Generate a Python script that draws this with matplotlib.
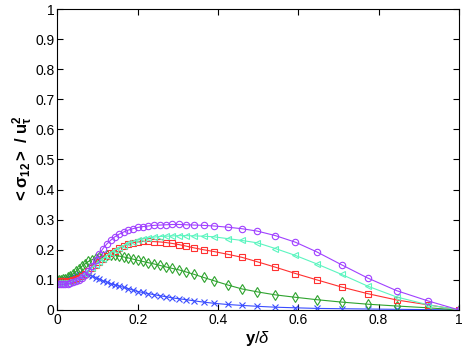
import matplotlib
matplotlib.use('Agg')
import matplotlib.pyplot as plt

# wall-normal grid (y/delta)
y_delta = [0, 0.004, 0.009, 0.014, 0.02, 0.026, 0.032, 0.039, 0.046, 0.053,
           0.061, 0.069, 0.077, 0.086, 0.095, 0.104, 0.113, 0.123, 0.133, 0.143,
           0.154, 0.165, 0.176, 0.188, 0.2, 0.213, 0.226, 0.24, 0.255, 0.27,
           0.286, 0.303, 0.321, 0.341, 0.364, 0.39, 0.424, 0.459, 0.498, 0.543,
           0.593, 0.646, 0.708, 0.773, 0.845, 0.923, 1.0]

blue = [0.1, 0.1, 0.1, 0.101, 0.103, 0.106, 0.109, 0.113, 0.117, 0.12,
        0.121, 0.12, 0.117, 0.112, 0.107, 0.102, 0.097, 0.092, 0.087, 0.083,
        0.079, 0.075, 0.071, 0.066, 0.061, 0.058, 0.054, 0.051, 0.047, 0.044,
        0.04, 0.037, 0.034, 0.03, 0.026, 0.022, 0.018, 0.015, 0.012, 0.009,
        0.007, 0.005, 0.004, 0.003, 0.002, 0.001, 0.0]

green = [0.1, 0.1, 0.101, 0.102, 0.104, 0.108, 0.113, 0.12, 0.128, 0.136,
         0.145, 0.153, 0.161, 0.167, 0.172, 0.176, 0.179, 0.181, 0.182, 0.181,
         0.179, 0.176, 0.173, 0.169, 0.165, 0.161, 0.157, 0.153, 0.148, 0.143,
         0.138, 0.133, 0.126, 0.118, 0.108, 0.097, 0.083, 0.07, 0.06, 0.05,
         0.042, 0.034, 0.026, 0.019, 0.013, 0.007, 0.0]

red = [0.095, 0.095, 0.095, 0.095, 0.095, 0.096, 0.097, 0.099, 0.102, 0.107,
       0.113, 0.121, 0.13, 0.14, 0.15, 0.16, 0.17, 0.18, 0.189, 0.197,
       0.205, 0.212, 0.218, 0.223, 0.226, 0.228, 0.228, 0.227, 0.226, 0.224,
       0.221, 0.217, 0.212, 0.206, 0.2, 0.194, 0.185, 0.175, 0.16, 0.142,
       0.121, 0.1, 0.076, 0.054, 0.033, 0.017, 0.0]

cyan = [0.09, 0.09, 0.09, 0.09, 0.091, 0.092, 0.094, 0.097, 0.101, 0.106,
        0.113, 0.121, 0.13, 0.14, 0.15, 0.16, 0.17, 0.18, 0.19, 0.199,
        0.207, 0.214, 0.221, 0.227, 0.232, 0.236, 0.239, 0.242, 0.244, 0.245,
        0.246, 0.247, 0.247, 0.246, 0.245, 0.243, 0.237, 0.231, 0.223, 0.204,
        0.181, 0.153, 0.118, 0.079, 0.043, 0.017, 0.0]

purple = [0.085, 0.085, 0.085, 0.085, 0.086, 0.087, 0.089, 0.092, 0.096, 0.1,
          0.107, 0.117, 0.13, 0.147, 0.165, 0.185, 0.203, 0.219, 0.232, 0.243,
          0.252, 0.259, 0.265, 0.27, 0.274, 0.277, 0.279, 0.281, 0.282, 0.283,
          0.284, 0.284, 0.283, 0.282, 0.281, 0.279, 0.275, 0.27, 0.262, 0.247,
          0.225, 0.193, 0.15, 0.106, 0.064, 0.03, 0.0]

plt.rcParams['font.family'] = ['Liberation Sans', 'DejaVu Sans']
plt.rcParams['mathtext.fontset'] = 'custom'
plt.rcParams['mathtext.rm'] = 'Liberation Sans'
plt.rcParams['mathtext.bf'] = 'Liberation Sans:bold'
plt.rcParams['mathtext.it'] = 'Liberation Sans:italic'

fig = plt.figure(figsize=(4.63, 3.49), dpi=100)
ax = fig.add_axes([0.124, 0.112, 0.867, 0.862])

series = [
    (blue, '#3a4dff', 'x'),
    (green, '#2ea32e', 'd'),
    (red, '#ff3030', 's'),
    (cyan, '#5cf5c0', '<'),
    (purple, '#a040ff', 'o'),
]
for vals, col, mk in series:
    ax.plot(y_delta, vals, color=col, marker=mk, markersize=4.6,
            markerfacecolor='none', markeredgewidth=0.8, linewidth=0.8)

ax.set_xlim(0, 1)
ax.set_ylim(0, 1)
ax.set_xticks([0, 0.2, 0.4, 0.6, 0.8, 1])
ax.set_xticklabels(['0', '0.2', '0.4', '0.6', '0.8', '1'])
ax.set_yticks([i / 10 for i in range(11)])
ax.set_yticklabels(['0', '0.1', '0.2', '0.3', '0.4', '0.5', '0.6', '0.7', '0.8', '0.9', '1'])
ax.tick_params(direction='in', top=True, right=True, length=4, labelsize=10, pad=2)
for s in ax.spines.values():
    s.set_linewidth(0.8)

ax.set_xlabel(r'$\mathbf{y}/\delta$', fontsize=12, labelpad=2)
ax.set_ylabel(r'$\mathbf{{<}\sigma_{12}{>}\ /\ u_{\tau}^{2}}$', fontsize=12, labelpad=0)

fig.savefig('out.png', dpi=100)
